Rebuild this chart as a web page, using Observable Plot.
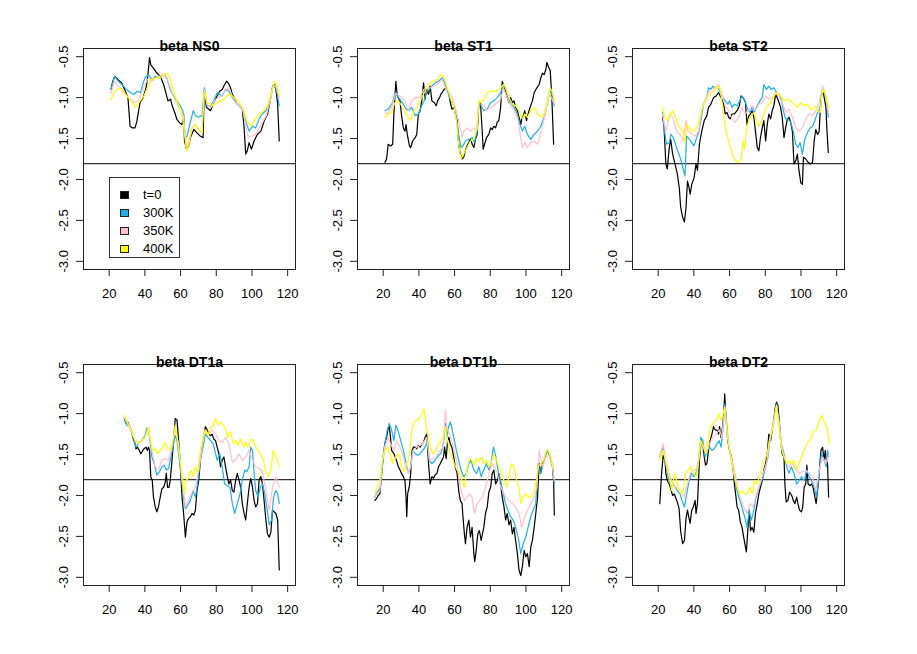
<!DOCTYPE html>
<html>
<head>
<meta charset="utf-8">
<script src="https://cdn.jsdelivr.net/npm/d3@7"></script>
<script src="https://cdn.jsdelivr.net/npm/@observablehq/plot@0.6"></script>
<style>
  html, body { margin: 0; padding: 0; background: #fff; }
  #chart { position: relative; width: 917px; height: 654px; background: #fff; font-family: "Liberation Sans", Arial, Helvetica, sans-serif; }
  #chart svg { position: absolute; }
  #legend { position: absolute; left: 109px; top: 177px; width: 71px; height: 81px; border: 1px solid #333; box-sizing: border-box; background: #fff; }
  .lrow { position: absolute; left: 0; height: 14px; font-size: 13px; line-height: 14px; color: #000; }
  .lbox { position: absolute; left: 10px; top: 3px; width: 9px; height: 8px; border: 1px solid #222; box-sizing: border-box; }
  .ltxt { position: absolute; left: 33px; top: 0; white-space: nowrap; }
</style>
</head>
<body>
<div id="chart"></div>
<script>
// ---------- tick labels, categories ----------
const xTicks = [20, 40, 60, 80, 100, 120];
const yTicks = [-3.0, -2.5, -2.0, -1.5, -1.0, -0.5];
const refLine = -1.806;
const seriesNames = ["t=0", "300K", "350K", "400K"];
const seriesColors = ["#000000", "#1fb1e6", "#ffc0cb", "#ffff00"];
const panelTitles = ["beta NS0", "beta ST1", "beta ST2", "beta DT1a", "beta DT1b", "beta DT2"];

// ---------- series values [age, beta] ----------
const NS0_t0 = [[21,-0.90],[22,-0.80],[23.2,-0.74],[25,-0.78],[27,-0.82],[29,-0.92],[30.5,-1.0],[31.7,-1.35],[33,-1.37],[34.5,-1.37],[35.5,-1.29],[36.5,-1.16],[37.3,-1.06],[39,-1.0],[40.7,-0.88],[41.6,-0.74],[42.6,-0.51],[43.3,-0.6],[44.8,-0.64],[46.7,-0.7],[48.6,-0.74],[50.5,-0.84],[52,-0.96],[52.9,-1.04],[54.4,-1.02],[55.3,-1.1],[56,-1.14],[57,-1.2],[58,-1.27],[59.5,-1.31],[60.8,-1.33],[61.7,-1.2],[62.2,-1.53],[63.3,-1.63],[64.5,-1.59],[65.5,-1.49],[67.4,-1.39],[69.2,-1.43],[71,-1.47],[72.6,-1.49],[73.3,-0.9],[74.5,-1.12],[75.7,-1.14],[76.8,-1.16],[78.6,-1.06],[80.5,-0.98],[82,-0.92],[83.3,-0.9],[84.7,-0.84],[85.8,-0.8],[86.7,-0.82],[88,-0.88],[89,-0.96],[90,-1.0],[91,-1.06],[92.9,-1.1],[94.6,-1.14],[95.6,-1.37],[96.5,-1.69],[97.4,-1.65],[98.4,-1.55],[99.7,-1.63],[101.2,-1.53],[103,-1.45],[105,-1.41],[106.8,-1.29],[108.7,-1.2],[109.7,-1.1],[111.6,-0.86],[112.5,-0.84],[113.4,-0.9],[114.4,-1.08],[115.3,-1.53]];
const NS0_300K = [[21,-0.9],[23,-0.74],[25,-0.8],[28,-0.86],[29.8,-0.9],[32,-0.94],[34,-0.96],[35.8,-0.92],[37.5,-0.94],[38.8,-0.84],[40,-0.76],[42,-0.72],[44,-0.78],[45.8,-0.74],[48.6,-0.76],[50.5,-0.72],[52.3,-0.76],[54.2,-0.9],[56,-0.98],[58,-1.04],[59.8,-1.1],[61.3,-1.16],[62.7,-1.49],[63.6,-1.47],[65.6,-1.29],[67.1,-1.16],[68.3,-1.22],[70.2,-1.24],[72,-1.22],[73.4,-0.88],[74.8,-1.1],[76.8,-1.1],[78.6,-1.04],[80.5,-0.94],[83.3,-0.98],[85,-0.9],[87,-0.92],[89,-1.0],[91.8,-1.08],[94.6,-1.14],[96.5,-1.29],[98.4,-1.41],[100.3,-1.35],[102.1,-1.37],[104,-1.26],[105.8,-1.2],[107.7,-1.16],[109.7,-1.06],[111.6,-0.88],[112.9,-0.84],[114.4,-0.98],[115.3,-1.1]];
const NS0_350K = [[21,-0.95],[23,-0.8],[25,-0.85],[28,-0.92],[30,-0.98],[32,-1.02],[34,-1.06],[36,-1.04],[38,-0.94],[40,-0.84],[42,-0.76],[44,-0.8],[46,-0.76],[48,-0.74],[50,-0.72],[52,-0.74],[54,-0.86],[56,-0.98],[58,-1.08],[60,-1.16],[61.5,-1.22],[63.3,-1.6],[64.5,-1.55],[66,-1.38],[68,-1.33],[70,-1.39],[72,-1.43],[73.3,-0.9],[74.8,-1.08],[77,-1.12],[79,-1.04],[81,-1.0],[83,-0.98],[85,-0.9],[87,-0.88],[89,-0.98],[91,-1.06],[93,-1.1],[95,-1.16],[96.5,-1.35],[98,-1.49],[100,-1.47],[102,-1.45],[104,-1.37],[106,-1.3],[108,-1.22],[110,-1.06],[112,-0.86],[113.5,-0.86],[115.3,-1.0]];
const NS0_400K = [[21,-1.03],[23.2,-0.92],[26,-0.88],[28.8,-0.96],[31.7,-1.02],[34.7,-1.12],[36.6,-1.06],[39.5,-0.98],[41.4,-0.88],[43.3,-0.78],[46,-0.76],[48.6,-0.76],[51.4,-0.7],[53.3,-0.72],[55,-0.84],[57,-0.98],[58.9,-1.1],[60.8,-1.2],[62,-1.41],[63.3,-1.65],[64.6,-1.57],[66.5,-1.37],[68.3,-1.33],[70.2,-1.39],[72,-1.43],[73.3,-0.92],[74.8,-1.06],[77.7,-1.1],[80.5,-1.06],[82.4,-1.04],[84.3,-1.02],[87.1,-0.96],[90,-1.0],[92.9,-1.06],[95.6,-1.16],[97.4,-1.29],[99.3,-1.35],[101.2,-1.29],[103,-1.22],[105.8,-1.18],[108.7,-1.1],[110.6,-0.96],[112.5,-0.8],[114,-0.84],[115.3,-0.98]];

const ST1_t0 = [[21,-1.79],[21.9,-1.75],[22.8,-1.57],[24.1,-1.59],[25.3,-1.57],[26,-1.2],[27.1,-0.8],[27.9,-0.98],[29.4,-1.04],[30.3,-1.22],[31.3,-1.37],[32.2,-1.41],[32.8,-1.33],[33.5,-1.45],[34.7,-1.59],[35.4,-1.61],[36.5,-1.53],[37.9,-1.49],[38.8,-1.45],[39.7,-1.2],[40.7,-1.16],[41.6,-1.04],[42.6,-0.82],[43.5,-1.02],[44.4,-0.9],[45.4,-0.96],[46.3,-0.86],[47.3,-1.04],[48.6,-1.06],[49.7,-1.1],[50.5,-1.04],[51.6,-1.0],[52.3,-0.96],[53.5,-0.92],[54.2,-0.9],[55.3,-0.88],[56.7,-0.94],[57.6,-1.06],[58.5,-1.14],[59.5,-1.12],[60.4,-1.2],[61.4,-1.28],[62.3,-1.57],[63.2,-1.69],[64.2,-1.75],[65.1,-1.73],[66,-1.65],[67,-1.59],[68,-1.55],[68.9,-1.51],[69.9,-1.57],[70.8,-1.61],[71.7,-1.51],[72.6,-1.45],[73.6,-1.08],[74.5,-1.06],[75.5,-1.41],[76,-1.63],[76.8,-1.57],[77.9,-1.49],[79.2,-1.45],[80.2,-1.37],[81.1,-1.39],[82,-1.35],[83,-1.37],[83.9,-1.3],[84.8,-1.28],[85.8,-1.12],[86.7,-0.8],[87.7,-0.86],[88.6,-0.92],[89.5,-1.0],[90.5,-1.06],[91.4,-1.0],[92.4,-1.06],[93.3,-1.04],[94.2,-1.12],[95.2,-1.16],[96.1,-1.24],[97.1,-1.33],[97.6,-1.26],[98.6,-1.22],[99.3,-1.16],[100.3,-1.28],[101.2,-1.2],[102.3,-1.12],[103.6,-1.04],[104.6,-0.94],[106.1,-0.88],[107.4,-0.84],[108.3,-0.76],[109.3,-0.7],[110.2,-0.72],[111.2,-0.65],[111.7,-0.57],[112.7,-0.63],[113.6,-0.67],[114.5,-1.0],[115.5,-1.57]];
const ST1_300K = [[21,-1.16],[22.8,-1.14],[24.1,-1.1],[25.3,-1.06],[26.6,-0.94],[27.9,-0.98],[29.4,-1.02],[31.3,-1.08],[32.8,-1.14],[34,-1.16],[36,-1.12],[37.9,-1.22],[39.7,-1.2],[41.6,-1.1],[42.9,-1.04],[44.4,-0.92],[45.9,-0.9],[47.3,-0.86],[49.1,-0.82],[51,-0.8],[52.9,-0.76],[54.2,-0.8],[55.7,-0.9],[57.2,-1.0],[58.5,-1.06],[59.8,-1.1],[61,-1.24],[62.3,-1.45],[63.6,-1.61],[64.7,-1.59],[66,-1.53],[68,-1.51],[69.8,-1.49],[71.1,-1.55],[72.6,-1.41],[73.6,-1.06],[74.9,-1.1],[76.4,-1.16],[78.3,-1.14],[80.2,-1.06],[82,-1.04],[83.9,-1.0],[85.8,-0.94],[87.3,-0.84],[88.6,-0.88],[89.9,-0.98],[91.4,-1.06],[93.3,-1.12],[95.2,-1.2],[96.7,-1.33],[98,-1.41],[99.3,-1.35],[100.8,-1.45],[102.7,-1.51],[104.6,-1.45],[106.5,-1.41],[108.3,-1.35],[110.2,-1.24],[112.1,-1.06],[113.6,-0.9],[114.9,-1.0],[115.9,-1.1]];
const ST1_350K = [[21,-1.2],[23,-1.18],[25,-1.1],[27,-0.95],[29.4,-0.98],[32.2,-1.04],[34,-1.16],[36,-1.04],[37.9,-1.0],[40.7,-1.0],[42.6,-0.9],[46.3,-0.88],[50,-0.84],[52.9,-0.78],[54.8,-0.88],[56.7,-0.92],[58.5,-1.0],[60.4,-1.12],[62.3,-1.28],[64.2,-1.49],[65.1,-1.41],[67,-1.37],[68.9,-1.41],[70.8,-1.37],[72.3,-1.41],[73.6,-1.04],[76.4,-1.1],[78.3,-1.16],[80.2,-1.12],[82,-1.1],[83.9,-1.06],[85.8,-1.02],[87.3,-0.88],[89.5,-1.0],[91.4,-1.1],[93.3,-1.16],[95.2,-1.24],[97.1,-1.49],[98,-1.61],[99.3,-1.55],[100.8,-1.61],[102.7,-1.55],[104.6,-1.53],[106.5,-1.57],[107.4,-1.51],[110.2,-1.26],[113,-0.94],[115.9,-1.08]];
const ST1_400K = [[21,-1.24],[22.8,-1.2],[24.7,-1.18],[26.6,-1.06],[28.5,-1.04],[30.3,-1.1],[32.2,-1.18],[34,-1.24],[35.4,-1.28],[36.9,-1.18],[38.8,-1.12],[40.7,-1.04],[42.6,-0.96],[44.4,-0.88],[46.3,-0.82],[48.2,-0.8],[50.1,-0.78],[52.3,-0.72],[53.8,-0.74],[55.7,-0.86],[57.6,-1.0],[59.5,-1.1],[61,-1.28],[62.3,-1.57],[63.6,-1.75],[65.1,-1.69],[67,-1.61],[68.9,-1.53],[70.8,-1.51],[72.6,-1.37],[73.6,-1.04],[74.5,-1.06],[76.4,-1.02],[78.3,-0.94],[80.2,-0.92],[82,-0.92],[83.9,-0.92],[85.8,-0.88],[87.3,-0.84],[88.6,-0.88],[90.5,-1.0],[92.4,-1.08],[94.2,-1.1],[96.1,-1.16],[98,-1.26],[99.3,-1.2],[100.8,-1.24],[102.7,-1.16],[104.6,-1.12],[106.5,-1.2],[108.3,-1.24],[110.2,-1.2],[112.1,-1.04],[113.6,-0.88],[114.9,-0.94],[115.9,-1.04]];

const ST2_t0 = [[22.4,-1.24],[23.2,-1.33],[24.3,-1.81],[25.1,-1.87],[26.2,-1.61],[27,-1.51],[28.1,-1.69],[29.4,-1.81],[30.7,-1.93],[31.8,-2.1],[32.6,-2.34],[33.7,-2.46],[34.7,-2.52],[35.6,-2.34],[36.4,-2.02],[37.3,-2.1],[37.9,-2.18],[38.8,-2.06],[40.1,-1.98],[41.2,-1.81],[42,-1.89],[43.1,-1.57],[44.4,-1.41],[45.8,-1.28],[47.3,-1.22],[48.2,-1.12],[49.5,-1.08],[51,-1.0],[52.5,-0.98],[53.8,-0.94],[54.8,-0.98],[55.7,-1.02],[56.7,-1.08],[57.6,-1.2],[58.5,-1.18],[59.5,-1.24],[60.4,-1.26],[61.4,-1.2],[62.7,-1.2],[64.2,-1.16],[65.5,-1.1],[66.4,-0.98],[67.6,-1.0],[68.9,-1.06],[69.8,-1.33],[70.8,-1.22],[71.7,-1.2],[72.6,-1.16],[73.6,-1.24],[74.5,-1.41],[75.5,-1.61],[76.4,-1.65],[77.3,-1.49],[78.3,-1.37],[79.2,-1.28],[80.2,-1.53],[81.1,-1.33],[82,-1.2],[83,-1.26],[83.9,-1.16],[84.8,-1.1],[85.8,-0.96],[86.7,-1.0],[87.7,-1.06],[88.6,-1.12],[89.5,-1.24],[90.5,-1.49],[91.4,-1.37],[92.4,-1.26],[93.3,-1.24],[94.2,-1.3],[95.2,-1.41],[96.1,-1.81],[97.1,-1.77],[98,-1.69],[98.9,-1.89],[99.9,-2.04],[100.8,-2.06],[101.4,-1.73],[102.7,-1.75],[104,-1.79],[105.2,-1.81],[106.5,-1.79],[107.4,-1.53],[108.3,-1.39],[109.3,-1.45],[110.2,-1.41],[110.8,-1.16],[111.7,-0.92],[112.7,-0.96],[114,-1.12],[114.5,-1.37],[115.3,-1.67]];
const ST2_300K = [[22.4,-1.18],[23.8,-1.45],[24.7,-1.57],[26.2,-1.55],[27.1,-1.45],[28.5,-1.49],[30,-1.59],[31.3,-1.67],[32.6,-1.75],[33.7,-1.85],[35,-1.96],[35.9,-1.47],[37.5,-1.51],[38.8,-1.55],[40.1,-1.59],[41.2,-1.51],[42.6,-1.43],[43.9,-1.28],[45.4,-1.08],[47,-1.02],[48.2,-0.88],[49.5,-0.9],[50.6,-0.86],[52,-0.88],[53.3,-0.86],[54.8,-0.94],[56.3,-1.0],[57.6,-1.04],[59,-1.08],[60,-1.04],[61.4,-1.12],[62.7,-1.08],[64.2,-1.1],[65.7,-1.04],[67,-0.98],[68.3,-1.02],[69.8,-1.12],[71.4,-1.18],[72.6,-1.12],[73.9,-1.18],[75.5,-1.1],[77,-1.04],[78.3,-1.0],[79.2,-0.84],[80.7,-0.9],[82,-0.86],[83.3,-0.9],[84.8,-0.88],[86.4,-0.94],[87.7,-0.96],[89,-1.02],[90.1,-1.16],[91.4,-1.26],[92.7,-1.26],[94.2,-1.3],[95.7,-1.41],[97.1,-1.57],[98.3,-1.61],[99.5,-1.55],[100.8,-1.69],[102.1,-1.51],[103.6,-1.43],[105.2,-1.37],[106.5,-1.35],[107.8,-1.28],[109.3,-1.18],[110.6,-1.14],[112.1,-0.88],[113.4,-0.96],[114.5,-1.04],[115.3,-1.24]];
const ST2_350K = [[22.4,-1.2],[24.3,-1.41],[26.6,-1.2],[28.5,-1.26],[30.3,-1.41],[32.2,-1.45],[34.1,-1.53],[35.6,-1.28],[36.8,-1.41],[38.8,-1.45],[40.6,-1.47],[42.6,-1.41],[44.4,-1.16],[46.3,-1.02],[48.2,-0.94],[50,-0.9],[52,-0.88],[53.8,-0.84],[55.7,-0.96],[57.6,-1.1],[59.5,-1.16],[61.4,-1.26],[63.2,-1.3],[65.1,-1.24],[67,-1.12],[68.9,-1.2],[70.8,-1.14],[72.6,-1.1],[74.5,-1.16],[76.4,-1.08],[78.3,-1.06],[80.2,-0.98],[82,-1.02],[83.9,-1.0],[85.8,-0.94],[87.7,-0.98],[89.5,-1.06],[91.4,-1.18],[93.3,-1.14],[95.2,-1.24],[97.1,-1.37],[98.9,-1.41],[100.8,-1.37],[102.7,-1.26],[104.6,-1.2],[106.5,-1.22],[108.3,-1.16],[110.2,-1.06],[112.1,-0.86],[114,-0.98],[115.3,-1.18]];
const ST2_400K = [[22.4,-1.12],[23.8,-1.24],[25.1,-1.28],[26.6,-1.2],[28.1,-1.16],[29.4,-1.22],[30.7,-1.3],[32.2,-1.37],[33.7,-1.41],[35,-1.53],[35.9,-1.33],[37.5,-1.37],[38.8,-1.41],[40.1,-1.41],[41.6,-1.37],[43.1,-1.26],[44.4,-1.14],[46.3,-1.04],[48.2,-0.98],[50,-0.94],[52,-0.9],[53.5,-0.86],[54.8,-0.9],[56.3,-1.16],[57.6,-1.37],[59,-1.49],[60.4,-1.61],[61.9,-1.71],[63.2,-1.77],[65.1,-1.79],[66.4,-1.75],[67.6,-1.53],[68.3,-1.63],[69.4,-1.41],[70.8,-1.26],[72.1,-1.22],[73.6,-1.18],[75.1,-1.28],[76.4,-1.35],[77.7,-1.3],[79.2,-1.2],[81.1,-1.1],[83,-1.06],[84.8,-0.98],[86.7,-0.94],[88.6,-0.98],[90.5,-1.04],[92.4,-1.02],[94.2,-1.04],[96.1,-1.08],[98,-1.12],[99.9,-1.06],[101.8,-1.1],[103.6,-1.08],[105.2,-1.14],[106.5,-1.14],[107.8,-1.1],[109.3,-1.16],[110.8,-1.18],[112.1,-0.9],[113.4,-0.94],[114.9,-1.06],[115.9,-1.12]];

const DT1a_t0 = [[28.5,-1.06],[29.4,-1.12],[30.2,-1.1],[30.8,-1.12],[31.7,-1.18],[32.6,-1.22],[33.5,-1.31],[34.5,-1.37],[35,-1.43],[35.8,-1.41],[36.9,-1.45],[37.7,-1.49],[38.8,-1.45],[39.5,-1.43],[40.7,-1.41],[41.4,-1.45],[42,-1.41],[42.6,-1.45],[43.3,-1.77],[44.1,-1.81],[44.8,-2.02],[45.8,-2.14],[46.7,-2.2],[47.6,-2.14],[48.6,-2.02],[49.5,-1.92],[50.5,-1.9],[51.4,-1.84],[52,-1.73],[52.7,-1.9],[53.5,-1.9],[54.2,-1.82],[55.2,-1.57],[56.1,-1.33],[57,-1.06],[58,-1.08],[58.9,-1.33],[59.8,-1.61],[60.8,-2.02],[61.7,-2.22],[62.7,-2.51],[63.6,-2.32],[64.5,-2.28],[65.5,-2.26],[66.4,-2.22],[67.4,-2.24],[68.3,-2.18],[69.2,-1.94],[70.2,-1.81],[71.1,-1.57],[72.1,-1.41],[73,-1.29],[73.9,-1.16],[74.9,-1.2],[75.8,-1.25],[76.8,-1.27],[77.7,-1.25],[78.6,-1.31],[79.6,-1.33],[80.5,-1.41],[81.5,-1.49],[82.4,-1.65],[83.3,-1.57],[84.3,-1.53],[85.2,-1.65],[86.2,-1.77],[87.1,-1.86],[88,-1.81],[89,-1.94],[89.9,-1.96],[90.9,-1.81],[91.8,-1.73],[92.7,-1.81],[93.7,-1.9],[94.6,-2.1],[95.6,-2.22],[96.5,-2.3],[97.4,-2.1],[98.4,-1.9],[99.3,-1.79],[100.3,-1.9],[101.2,-2.06],[102.1,-2.14],[103.1,-2.1],[104,-1.81],[105,-1.77],[105.9,-1.86],[106.8,-2.06],[107.8,-2.3],[108.7,-2.47],[109.7,-2.51],[110.6,-2.45],[111.5,-2.18],[112.5,-2.2],[113.4,-2.22],[114.4,-2.3],[115.3,-2.91]];
const DT1a_300K = [[28.5,-1.06],[29.8,-1.14],[31.7,-1.16],[33.5,-1.29],[35,-1.41],[36.4,-1.37],[38.2,-1.33],[40.1,-1.27],[41,-1.18],[42,-1.18],[42.9,-1.33],[43.9,-1.53],[45.2,-1.61],[46.7,-1.75],[48.2,-1.71],[49.5,-1.65],[50.8,-1.63],[52,-1.69],[53.3,-1.67],[54.6,-1.53],[55.7,-1.41],[57,-1.27],[58,-1.33],[58.9,-1.49],[60.2,-1.73],[61.4,-1.98],[62.7,-2.16],[64,-2.12],[65.5,-2.06],[67,-1.94],[68.3,-2.02],[69.2,-1.9],[70.2,-1.73],[71.1,-1.57],[72.6,-1.41],[73.9,-1.25],[75.3,-1.29],[76.8,-1.33],[78.3,-1.37],[79.6,-1.49],[80.5,-1.57],[82,-1.49],[83.3,-1.65],[84.7,-1.86],[86.2,-1.88],[87.7,-1.9],[89,-2.1],[90.3,-2.22],[91.8,-2.1],[93.3,-1.98],[94.6,-1.81],[96,-1.69],[97.1,-1.71],[98.4,-1.65],[99.3,-1.41],[100.3,-1.45],[101.2,-1.73],[102.1,-1.94],[103.5,-2.02],[104.6,-1.9],[105.9,-1.86],[107.2,-1.98],[108.3,-2.14],[109.7,-2.36],[111,-2.3],[112.1,-2.02],[113.4,-1.94],[114.4,-1.98],[115.3,-2.1]];
const DT1a_350K = [[28.5,-1.04],[31.7,-1.16],[34.5,-1.33],[37.3,-1.35],[40.1,-1.29],[42,-1.18],[43.9,-1.45],[45.8,-1.65],[47.6,-1.69],[49.5,-1.57],[51.4,-1.55],[53.3,-1.57],[55.2,-1.41],[57,-1.18],[58.9,-1.37],[60.8,-1.82],[62.7,-2.14],[64.5,-2.06],[66.4,-1.96],[68.3,-1.9],[70.2,-1.69],[72.1,-1.41],[73.9,-1.2],[75.8,-1.25],[77.7,-1.2],[79.6,-1.25],[81.5,-1.33],[83.3,-1.35],[85.2,-1.29],[87.1,-1.37],[89,-1.59],[90.9,-1.57],[92.7,-1.49],[94.6,-1.57],[96.5,-1.53],[98.4,-1.45],[100.3,-1.57],[102.1,-1.65],[104,-1.67],[105.9,-1.71],[107.8,-1.94],[109.7,-2.18],[111.5,-1.9],[113.4,-1.77],[115.3,-1.9]];
const DT1a_400K = [[28.5,-1.02],[29.4,-1.08],[30.7,-1.14],[32.6,-1.22],[34.5,-1.33],[36.4,-1.37],[38.2,-1.33],[40.1,-1.29],[42,-1.16],[42.9,-1.29],[44.4,-1.45],[45.8,-1.43],[47.1,-1.49],[48.6,-1.45],[50.1,-1.41],[51.4,-1.35],[52.7,-1.43],[54.2,-1.45],[55.7,-1.33],[57,-1.14],[58.3,-1.33],[59.5,-1.53],[60.8,-1.73],[62.1,-1.98],[63.2,-1.81],[64.5,-1.79],[65.9,-1.69],[67,-1.77],[68.3,-1.65],[69.6,-1.71],[71.1,-1.45],[72.6,-1.29],[73.9,-1.2],[75.3,-1.27],[76.8,-1.18],[78.3,-1.14],[79.6,-1.06],[80.9,-1.14],[82.4,-1.1],[83.8,-1.14],[85.2,-1.18],[86.5,-1.29],[88,-1.22],[89.5,-1.37],[90.9,-1.33],[92.2,-1.39],[93.7,-1.31],[95.2,-1.41],[96.5,-1.35],[97.8,-1.41],[99.3,-1.31],[100.8,-1.33],[102.1,-1.41],[103.5,-1.45],[105,-1.51],[106.5,-1.57],[107.8,-1.71],[109.1,-1.77],[110.6,-1.69],[111.9,-1.45],[113.4,-1.51],[114.4,-1.59],[115.3,-1.65]];

const DT1b_t0 = [[15.3,-2.06],[16.2,-2.04],[17.2,-2.0],[18.1,-1.98],[19.1,-1.73],[20,-1.53],[20.9,-1.37],[21.9,-1.29],[22.8,-1.18],[23.4,-1.16],[24.1,-1.29],[24.7,-1.45],[26,-1.49],[27.1,-1.55],[28.5,-1.65],[29.4,-1.69],[30.3,-1.73],[31.3,-1.77],[32.2,-1.82],[32.8,-2.02],[33.2,-2.26],[33.7,-1.98],[34.7,-1.88],[35.4,-1.73],[36.2,-1.45],[36.9,-1.41],[37.9,-1.41],[38.8,-1.43],[39.7,-1.39],[40.7,-1.41],[41.6,-1.37],[42.6,-1.35],[43.5,-1.29],[44.4,-1.25],[45.4,-1.61],[46.3,-1.86],[47.3,-1.77],[48.2,-1.79],[49.1,-1.75],[50.1,-1.73],[51,-1.65],[52,-1.61],[52.9,-1.57],[53.8,-1.53],[54.4,-1.41],[55.3,-1.55],[56.1,-1.33],[56.8,-1.29],[57.6,-1.37],[58.5,-1.41],[59.5,-1.53],[60.4,-1.65],[61.4,-1.73],[62.3,-1.94],[63.2,-2.06],[64.2,-2.1],[64.7,-2.26],[65.5,-2.47],[66.1,-2.59],[67,-2.39],[68,-2.3],[68.9,-2.51],[69.8,-2.39],[70.8,-2.71],[71.3,-2.81],[72.1,-2.67],[73,-2.47],[73.9,-2.43],[74.9,-2.55],[75.6,-2.47],[76.4,-2.39],[77.3,-2.22],[78.3,-2.14],[79.2,-1.96],[80.2,-1.9],[81.1,-1.73],[82,-1.69],[83,-1.86],[83.9,-1.82],[84.8,-1.73],[85.8,-1.86],[86.7,-2.02],[87.7,-2.14],[88.6,-2.3],[89.5,-2.22],[90.5,-2.36],[91.4,-2.3],[92.4,-2.47],[93.3,-2.39],[94.2,-2.55],[95.2,-2.71],[96.1,-2.91],[97.1,-2.98],[98,-2.87],[99,-2.67],[99.9,-2.75],[100.8,-2.71],[101.8,-2.87],[102.7,-2.63],[103.6,-2.55],[104.6,-2.39],[105.5,-2.22],[106.5,-2.02],[107.4,-1.61],[108.3,-1.73],[109.3,-1.61],[110.2,-1.57],[111.2,-1.49],[112.1,-1.45],[113,-1.49],[114,-1.57],[114.9,-1.65],[115.5,-1.82],[115.9,-2.24]];
const DT1b_300K = [[15.3,-2.02],[17.2,-1.94],[18.5,-1.9],[19.6,-1.65],[20.9,-1.37],[22.3,-1.2],[23.4,-1.12],[24.7,-1.2],[26,-1.33],[27.1,-1.14],[28.5,-1.22],[29.8,-1.33],[31.3,-1.45],[32.8,-1.61],[34.1,-1.73],[35.4,-1.65],[36.5,-1.45],[37.9,-1.49],[39.2,-1.51],[40.7,-1.49],[42.2,-1.45],[43.5,-1.41],[44.8,-1.33],[45.9,-1.57],[47.3,-1.61],[49.1,-1.57],[51,-1.51],[52.3,-1.49],[53.8,-1.37],[54.8,-1.12],[55.7,-1.29],[56.7,-1.16],[57.6,-1.1],[58.5,-1.18],[59.5,-1.29],[61,-1.45],[62.3,-1.57],[63.6,-1.69],[65.1,-1.77],[66.6,-1.73],[68,-1.61],[69.2,-1.57],[70.8,-1.69],[72.3,-1.73],[73.6,-1.65],[74.9,-1.77],[76.4,-1.69],[77.9,-1.61],[79.2,-1.69],[80.5,-1.61],[81.7,-1.41],[83,-1.51],[84.3,-1.69],[85.8,-1.82],[87.3,-1.98],[88.6,-2.1],[89.9,-2.18],[91.4,-2.26],[92.9,-2.3],[94.2,-2.39],[95.6,-2.51],[97.1,-2.71],[98.4,-2.59],[99.9,-2.51],[101.2,-2.39],[102.7,-2.26],[104,-2.18],[105.5,-2.1],[106.8,-1.61],[108,-1.73],[109.3,-1.65],[110.6,-1.53],[112.1,-1.45],[113.6,-1.53],[114.9,-1.65],[115.9,-1.86]];
const DT1b_350K = [[15.3,-2.02],[18.1,-1.94],[19.6,-1.57],[20.9,-1.41],[22.8,-1.29],[24.1,-1.37],[26,-1.45],[27.5,-1.33],[29.4,-1.41],[31.3,-1.53],[32.8,-1.65],[34.1,-1.73],[35.4,-1.65],[36.9,-1.45],[38.8,-1.41],[40.7,-1.39],[42.6,-1.35],[44.4,-1.29],[45.9,-1.57],[48.2,-1.55],[50.1,-1.51],[52,-1.45],[53.5,-1.41],[54.8,-0.96],[55.7,-1.16],[57.2,-1.25],[58.5,-1.33],[59.8,-1.45],[61.4,-1.61],[62.9,-1.86],[64.2,-1.98],[65.5,-2.06],[67,-2.02],[68.5,-1.98],[69.8,-2.02],[71.1,-2.22],[72.6,-2.1],[74.1,-2.06],[75.5,-2.02],[76.8,-1.94],[78.3,-1.82],[79.8,-1.69],[81.1,-1.61],[82.4,-1.65],[83.9,-1.73],[85.4,-1.86],[86.7,-1.94],[88.6,-2.02],[90.5,-2.06],[92.4,-2.1],[94.2,-2.14],[96.1,-2.22],[97.6,-2.39],[99.3,-2.26],[100.8,-2.18],[102.7,-2.1],[104.6,-2.02],[106.1,-1.9],[107.4,-1.45],[109.3,-1.65],[111.2,-1.53],[113,-1.51],[114.9,-1.65],[115.9,-1.82]];
const DT1b_400K = [[15.3,-1.98],[16.6,-1.9],[18.1,-1.82],[19.6,-1.57],[20.9,-1.45],[22.3,-1.41],[23.8,-1.49],[25.3,-1.61],[26.6,-1.55],[27.9,-1.49],[29.4,-1.53],[30.3,-1.65],[31.7,-1.71],[32.8,-1.63],[34.1,-1.57],[35,-1.45],[36,-1.2],[37.3,-1.1],[38.8,-1.08],[40.3,-1.06],[41.6,-1.0],[42.9,-0.94],[44.1,-1.16],[45.4,-1.29],[46.7,-1.45],[48.2,-1.49],[49.7,-1.45],[51,-1.37],[52.3,-1.33],[53.8,-1.29],[54.8,-1.16],[55.7,-1.29],[57.2,-1.45],[58.5,-1.53],[59.8,-1.61],[61.4,-1.69],[62.9,-1.73],[64.2,-1.82],[65.5,-1.9],[66.6,-1.73],[68,-1.57],[69.2,-1.55],[70.8,-1.63],[72.3,-1.55],[73.6,-1.59],[74.9,-1.53],[76.4,-1.61],[77.9,-1.57],[79.2,-1.65],[80.5,-1.61],[82,-1.49],[83.5,-1.57],[84.8,-1.65],[86.2,-1.73],[87.7,-1.82],[89.2,-1.9],[90.5,-1.77],[91.8,-1.61],[93.3,-1.65],[94.8,-1.82],[96.1,-1.9],[97.1,-2.1],[98.4,-2.02],[99.9,-1.98],[101.2,-2.02],[102.7,-2.02],[104,-1.98],[105.5,-1.86],[106.8,-1.65],[108.3,-1.61],[109.8,-1.57],[111.2,-1.47],[112.5,-1.45],[114,-1.53],[115.3,-1.67]];

const DT2_t0 = [[20.9,-2.1],[21.9,-1.73],[22.8,-1.51],[23.8,-1.57],[24.3,-1.73],[25.1,-1.82],[26.2,-1.86],[27,-1.92],[28.1,-2.0],[29,-1.98],[30,-2.04],[30.7,-2.08],[31.7,-2.16],[32.6,-2.44],[33.7,-2.59],[34.7,-2.55],[35.6,-2.28],[36.4,-2.18],[37.3,-2.28],[37.9,-2.34],[38.8,-2.18],[39.7,-2.14],[40.7,-2.06],[41.2,-2.22],[42,-2.1],[43.1,-1.57],[44.1,-1.33],[45,-1.37],[45.8,-1.53],[46.5,-1.63],[47.3,-1.61],[48.2,-1.45],[49.1,-1.33],[50.1,-1.25],[51,-1.16],[52,-1.2],[52.9,-1.2],[53.8,-1.25],[54.4,-1.16],[55.2,-1.29],[56.1,-1.16],[56.7,-1.0],[57.3,-0.76],[58,-1.08],[59,-1.33],[60,-1.45],[61,-1.53],[61.9,-1.65],[62.7,-1.86],[63.6,-2.02],[64.2,-2.14],[65.1,-2.18],[66,-2.32],[67,-2.39],[67.9,-2.51],[68.9,-2.63],[69.4,-2.69],[70.2,-2.43],[71,-2.18],[71.7,-2.43],[72.6,-2.39],[73.6,-2.45],[74.5,-2.22],[75.5,-2.1],[76.4,-1.98],[77.3,-1.9],[78.3,-1.82],[79.2,-1.69],[80.2,-1.61],[81.1,-1.49],[82,-1.25],[83,-1.33],[83.9,-1.2],[84.8,-1.08],[85.8,-0.9],[86.3,-0.86],[87.1,-0.9],[87.8,-1.08],[88.6,-1.33],[89.5,-1.49],[90.5,-1.53],[91,-1.86],[91.7,-2.08],[92.7,-2.06],[93.6,-1.96],[94.8,-2.0],[95.7,-2.06],[96.6,-2.1],[97.6,-2.02],[98.3,-2.1],[99.2,-2.18],[100.3,-2.2],[101,-2.14],[101.8,-1.9],[102.7,-1.86],[103.3,-1.63],[104,-1.86],[105,-1.88],[105.9,-1.86],[106.8,-1.9],[107.8,-2.02],[108.5,-2.1],[109.3,-1.94],[110.2,-1.73],[111.2,-1.45],[112.1,-1.41],[113,-1.57],[113.6,-1.45],[114.2,-1.57],[114.9,-1.61],[115.5,-2.02]];
const DT2_300K = [[20.9,-1.53],[21.9,-1.45],[22.8,-1.41],[23.8,-1.57],[25.1,-1.73],[26.2,-1.82],[27.5,-1.9],[28.5,-1.86],[29.6,-1.9],[30.7,-1.94],[32.2,-1.98],[33.3,-2.06],[34.7,-2.14],[36,-1.98],[37.3,-1.82],[38.8,-1.73],[40.1,-1.77],[41.2,-1.73],[42.6,-1.57],[43.9,-1.29],[45,-1.33],[46.3,-1.53],[47.6,-1.45],[48.8,-1.41],[50.1,-1.45],[51.4,-1.43],[52.9,-1.37],[54.2,-1.33],[55.2,-1.41],[56.3,-1.2],[57.3,-0.88],[58.2,-1.08],[59.5,-1.41],[60.8,-1.53],[62.3,-1.73],[63.8,-1.9],[65.1,-2.02],[66.4,-2.1],[67.9,-2.22],[68.9,-2.3],[69.8,-2.39],[71,-2.18],[72.1,-2.3],[73.2,-2.22],[74.5,-2.06],[75.8,-1.94],[77.3,-1.86],[78.8,-1.77],[80.2,-1.65],[81.5,-1.53],[82.6,-1.33],[83.9,-1.2],[85.2,-1.0],[86.3,-0.88],[87.7,-1.08],[89,-1.37],[90.5,-1.49],[92,-1.65],[93.3,-1.73],[94.6,-1.65],[96.1,-1.73],[97.6,-1.86],[98.9,-1.82],[100.3,-1.77],[101.8,-1.82],[103.3,-1.69],[104.6,-1.77],[105.9,-1.82],[107.4,-1.9],[108.7,-2.02],[110.2,-1.73],[111.5,-1.49],[113,-1.57],[114.2,-1.65],[114.9,-1.45],[115.5,-1.53]];
const DT2_350K = [[20.9,-1.51],[22.8,-1.37],[24.3,-1.57],[26.2,-1.73],[28.1,-1.86],[30,-1.9],[32.2,-1.94],[34.4,-2.02],[36.4,-1.86],[37.9,-1.73],[39.7,-1.69],[41.2,-1.69],[42.6,-1.57],[43.9,-1.33],[45.4,-1.41],[46.9,-1.49],[48.8,-1.37],[50.6,-1.29],[52.5,-1.25],[54.4,-1.2],[55.7,-1.29],[57.3,-0.92],[58.6,-1.2],[60.4,-1.49],[62.3,-1.65],[64.2,-1.86],[66,-2.02],[67.9,-2.14],[69.8,-2.22],[71.4,-2.1],[73.2,-2.14],[75.1,-1.98],[77,-1.86],[78.8,-1.73],[80.7,-1.61],[82.6,-1.33],[84.5,-1.12],[86.3,-0.9],[87.8,-1.12],[89.5,-1.45],[91.4,-1.57],[93.3,-1.65],[95.2,-1.61],[97.1,-1.69],[98.9,-1.73],[100.8,-1.71],[102.7,-1.69],[104.6,-1.73],[106.5,-1.77],[108.3,-1.94],[110.2,-1.69],[112.1,-1.53],[114,-1.61],[115.5,-1.51]];
const DT2_400K = [[20.9,-1.57],[21.9,-1.49],[22.8,-1.45],[24,-1.57],[25.1,-1.69],[26.2,-1.77],[27.5,-1.94],[28.5,-1.82],[29.4,-1.73],[30.3,-1.82],[31.3,-1.9],[32.2,-1.94],[33.3,-1.98],[34.4,-1.9],[35.5,-1.73],[36.8,-1.69],[38.2,-1.65],[39.7,-1.73],[41.2,-1.77],[42.6,-1.61],[43.9,-1.33],[45.4,-1.41],[46.7,-1.49],[48.2,-1.29],[49.5,-1.16],[51,-1.12],[52.5,-1.08],[53.8,-1.0],[55.2,-1.08],[56.3,-1.0],[57.3,-0.92],[58.6,-1.25],[60,-1.45],[61.4,-1.61],[62.7,-1.77],[64.2,-1.9],[65.7,-1.98],[67,-1.94],[68.3,-1.98],[69.8,-1.98],[71.4,-1.9],[72.6,-1.98],[73.9,-1.82],[75.5,-1.86],[76.8,-1.77],[78.3,-1.65],[79.6,-1.57],[81.1,-1.49],[82.6,-1.29],[83.9,-1.2],[85.2,-1.08],[86.3,-0.9],[87.7,-1.18],[89,-1.41],[90.5,-1.53],[92,-1.61],[93.3,-1.57],[94.6,-1.61],[96.1,-1.57],[97.6,-1.69],[98.9,-1.61],[100.3,-1.53],[101.8,-1.45],[103.3,-1.37],[104.6,-1.33],[105.9,-1.29],[107.4,-1.2],[108.7,-1.2],[110.2,-1.08],[111.5,-1.02],[112.7,-1.08],[114,-1.14],[114.9,-1.2],[115.9,-1.37]];

const panelSeries = [
  [NS0_t0, NS0_300K, NS0_350K, NS0_400K],
  [ST1_t0, ST1_300K, ST1_350K, ST1_400K],
  [ST2_t0, ST2_300K, ST2_350K, ST2_400K],
  [DT1a_t0, DT1a_300K, DT1a_350K, DT1a_400K],
  [DT1b_t0, DT1b_300K, DT1b_350K, DT1b_400K],
  [DT2_t0, DT2_300K, DT2_350K, DT2_400K]
];

// ---------- layout ----------
const svgLeft = [23, 297, 572];
const svgTop = [18, 334];
const M = {left: 60, right: 10, top: 30, bottom: 40};
const frameW = 212, frameH = 221;
const fontFamily = '"Liberation Sans", Arial, Helvetica, sans-serif';

const chart = document.getElementById("chart");

panelSeries.forEach((series, i) => {
  const col = i % 3, row = Math.floor(i / 3);
  const svg = Plot.plot({
    width: M.left + frameW + M.right,
    height: M.top + frameH + M.bottom,
    marginLeft: M.left, marginRight: M.right, marginTop: M.top, marginBottom: M.bottom,
    x: {domain: [5.6, 124.4]},
    y: {domain: [-3.1, -0.4]},
    style: {fontFamily, fontSize: "13px", background: "transparent", color: "#000", overflow: "visible"},
    marks: [
      Plot.ruleY([refLine], {stroke: "#333", strokeWidth: 1.1}),
      ...series.map((s, k) => Plot.line(s, {x: d => d[0], y: d => d[1], stroke: seriesColors[k], strokeWidth: 1.2})),
      Plot.frame({stroke: "#222"}),
      Plot.axisX({ticks: xTicks, tickSize: 7, tickPadding: 12.5, fontSize: 13, stroke: "#222", label: null}),
      Plot.axisY({ticks: yTicks, tickSize: 7, tickFormat: () => "", stroke: "#222", label: null}),
      Plot.text(yTicks, {y: d => d, text: d => d.toFixed(1), frameAnchor: "left", dx: -16, rotate: -90, textAnchor: "middle", lineAnchor: "bottom", fontSize: 13, fill: "#000"}),
      Plot.text([panelTitles[i]], {frameAnchor: "top", dy: -7, fontWeight: "bold", fontSize: 14, fill: "#000"})
    ]
  });
  svg.style.left = svgLeft[col] + "px";
  svg.style.top = svgTop[row] + "px";
  chart.appendChild(svg);
});

// ---------- legend (in the first panel) ----------
const legend = document.createElement("div");
legend.id = "legend";
seriesNames.forEach((name, k) => {
  const r = document.createElement("div");
  r.className = "lrow";
  r.style.top = (10 + 18 * k) + "px";
  r.innerHTML = `<span class="lbox" style="background:${seriesColors[k]}"></span><span class="ltxt">${name}</span>`;
  legend.appendChild(r);
});
chart.appendChild(legend);
</script>
</body>
</html>
